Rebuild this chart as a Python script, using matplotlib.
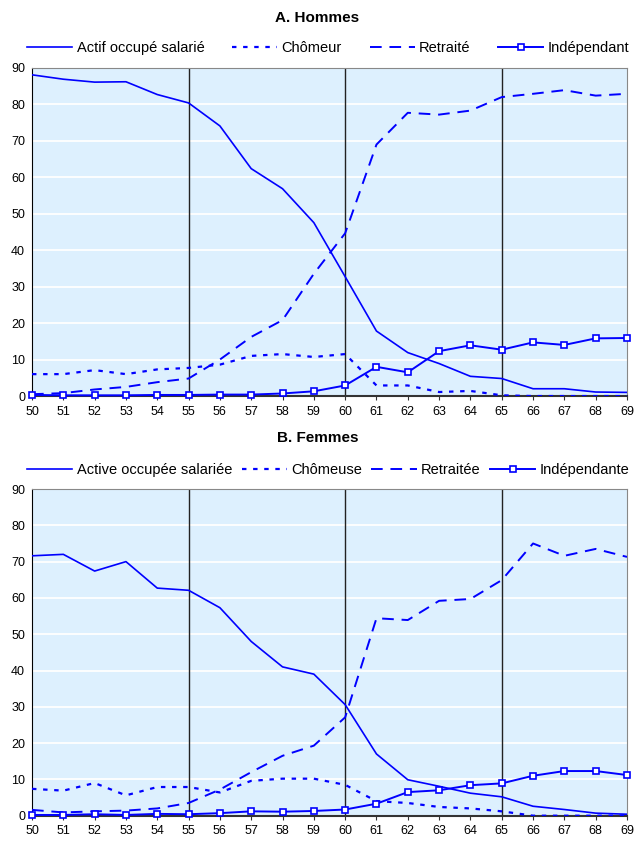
import numpy as np
import matplotlib
matplotlib.use("Agg")
import matplotlib.pyplot as plt

ages = list(range(50, 70))
age_labels = [str(a) for a in ages]

# A. Hommes
h_salarie = [88, 86.8, 86, 86.1, 82.6, 80.3, 74, 62.3, 56.8, 47.5,
             32.7, 17.8, 11.9, 8.9, 5.4, 4.8, 2.0, 2.0, 1.1, 1.0]
h_chomeur = [6.0, 6.0, 7.1, 6.0, 7.3, 7.7, 8.6, 11.0, 11.5, 10.7,
             11.5, 2.9, 2.9, 1.1, 1.4, 0.2, 0, 0, 0, 0]
h_retraite = [0.5, 0.8, 1.8, 2.5, 3.8, 4.8, 10.0, 16.2, 20.8, 33.5,
              44.6, 68.9, 77.6, 77.1, 78.2, 81.9, 82.8, 83.8, 82.3, 82.8]
h_indep = [0.3, 0.2, 0.2, 0.2, 0.3, 0.3, 0.4, 0.4, 0.7, 1.3,
           2.9, 8.0, 6.5, 12.3, 13.9, 12.7, 14.7, 14.0, 15.8, 15.9]

# B. Femmes
f_salariee = [71.6, 72.0, 67.4, 70.0, 62.7, 62.1, 57.3, 48.0, 41.0, 39.0,
              30.6, 17.0, 9.9, 8.1, 6.2, 5.2, 2.6, 1.7, 0.7, 0.4]
f_chomeuse = [7.4, 6.9, 9.0, 5.6, 7.9, 7.9, 6.4, 9.6, 10.2, 10.2,
              8.5, 4.0, 3.5, 2.4, 2.0, 1.2, 0, 0, 0, 0]
f_retraitee = [1.6, 0.9, 1.2, 1.4, 2.0, 3.5, 7.2, 12.0, 16.5, 19.3,
               27.1, 54.4, 53.9, 59.2, 59.7, 64.9, 75.0, 71.6, 73.5, 71.3]
f_indep = [0.2, 0.2, 0.4, 0.2, 0.5, 0.4, 0.7, 1.2, 1.1, 1.3,
           1.7, 3.3, 6.5, 7.0, 8.4, 8.9, 11.0, 12.3, 12.3, 11.2]

panels = [
    ("A. Hommes", ["Actif occupé salarié", "Chômeur", "Retraité", "Indépendant"],
     [h_salarie, h_chomeur, h_retraite, h_indep]),
    ("B. Femmes", ["Active occupée salariée", "Chômeuse", "Retraitée", "Indépendante"],
     [f_salariee, f_chomeuse, f_retraitee, f_indep]),
]

plt.rcParams['font.family'] = ['Liberation Sans', 'DejaVu Sans']
blue = '#0000FF'

fig = plt.figure(figsize=(6.35, 8.43), dpi=100)
# axes rectangles in figure fraction
rects = [(0.0504, 0.5302, 0.937, 0.3897), (0.0504, 0.0324, 0.937, 0.3875)]
title_y = [0.979, 0.480]

for (title, labels, series), rect, ty in zip(panels, rects, title_y):
    ax = fig.add_axes(rect)
    ax.set_facecolor('#DDF0FE')
    ax.set_xlim(50, 69)
    ax.set_ylim(0, 90)
    ax.set_yticks(range(0, 91, 10))
    ax.set_xticks(ages)
    ax.set_xticklabels(age_labels)
    ax.grid(axis='y', color='white', linewidth=1.3)
    ax.set_axisbelow(True)
    for v in (55, 60, 65):
        ax.axvline(v, color='#222222', linewidth=1.0, zorder=1.5)

    sal, cho, ret, ind = series
    ax.plot(ages, sal, color=blue, linewidth=1.2, label=labels[0], zorder=3)
    ax.plot(ages, cho, color=blue, linewidth=1.6, linestyle=(0, (2, 3)),
            label=labels[1], zorder=3)
    ax.plot(ages, ret, color=blue, linewidth=1.4, linestyle=(0, (6, 4)),
            label=labels[2], zorder=3)
    ax.plot(ages, ind, color=blue, linewidth=1.4, marker='s', markersize=5,
            markerfacecolor='white', markeredgecolor=blue, markeredgewidth=1.2,
            label=labels[3], zorder=4, clip_on=False)

    for s in ('top', 'right'):
        ax.spines[s].set_color('#888888')
    ax.spines['left'].set_color('black')
    ax.spines['bottom'].set_color('#333333')
    ax.spines['bottom'].set_linewidth(1.5)
    ax.tick_params(axis='y', length=0, labelsize=9, pad=5)
    ax.tick_params(axis='x', length=3, direction='out', labelsize=9,
                   color='#333333', pad=4)

    leg = ax.legend(loc='lower left', ncol=4, mode='expand',
                    bbox_to_anchor=(-0.018, 1.02, 1.032, 0.07), frameon=False,
                    fontsize=10.5, handlelength=3.1, handletextpad=0.3,
                    borderaxespad=0.0, columnspacing=0.8)
    fig.text(0.5, ty, title, ha='center', va='center', fontsize=11,
             fontweight='bold')

fig.savefig('out.png', dpi=100)
